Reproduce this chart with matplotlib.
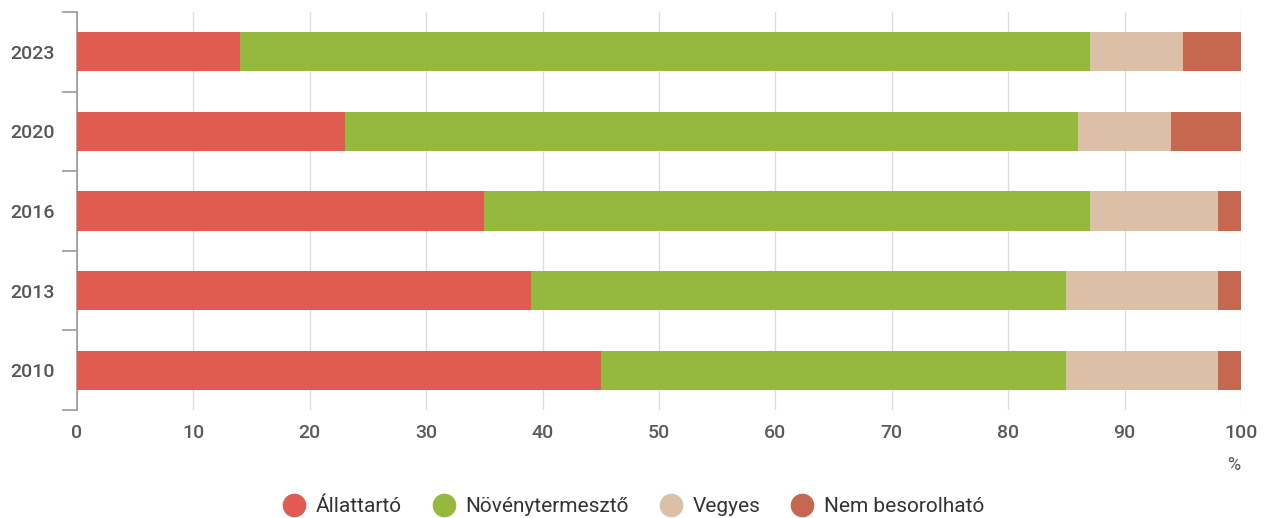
import matplotlib.pyplot as plt
import numpy as np

plt.rcParams['font.family'] = ['Roboto', 'DejaVu Sans']

years = ['2023', '2020', '2016', '2013', '2010']
allattarto = [14, 23, 35, 39, 45]
novenytermeszto = [73, 63, 52, 46, 40]
vegyes = [8, 8, 11, 13, 13]
nem_besorolhato = [5, 6, 2, 2, 2]

series = [('Állattartó', allattarto, '#E05C52'),
          ('Növénytermesztő', novenytermeszto, '#95B83E'),
          ('Vegyes', vegyes, '#DBBFA6'),
          ('Nem besorolható', nem_besorolhato, '#C5684F')]

fig = plt.figure(figsize=(12.65, 5.18), dpi=100)
ax = fig.add_axes([77/1265, 1 - 410/518, (1241-77)/1265, 398/518])

y = np.arange(len(years))
left = np.zeros(len(years))
for name, vals, col in series:
    ax.barh(y, vals, left=left, height=0.49, color=col, label=name, zorder=3)
    left += np.array(vals)

ax.set_xlim(0, 100)
ax.set_ylim(len(years) - 0.5, -0.5)
ax.set_xticks(np.arange(0, 101, 10))
ax.set_yticks(y)
ax.set_yticklabels(years)
ax.set_yticks(np.arange(-0.5, len(years), 1), minor=True)
ax.tick_params(axis='y', which='major', length=0, pad=16, labelsize=14, labelcolor='#555555')
ax.tick_params(axis='y', which='minor', length=11, color='#999999', width=1.2)
ax.tick_params(axis='x', length=0, pad=10, labelsize=14, labelcolor='#5A5A5A')
for lab in ax.get_xticklabels() + ax.get_yticklabels():
    lab.set_fontweight('medium')
ax.grid(axis='x', color='#DDDDDD', linewidth=1, zorder=0)

for s in ['top', 'right', 'bottom']:
    ax.spines[s].set_visible(False)
ax.spines['left'].set_color('#999999')
ax.spines['left'].set_linewidth(1.2)

fig.text(1234/1265, 1 - 465/518, '%', ha='center', va='center', fontsize=13, color='#555555')

handles = [plt.Line2D([], [], marker='o', linestyle='', markersize=16, color=c) for _, _, c in series]
fig.legend(handles, [s[0] for s in series], loc='center', bbox_to_anchor=(632/1265, 1 - 507/518),
           ncol=4, frameon=False, fontsize=15, handletextpad=0.35, columnspacing=1.3,
           handlelength=1.4, labelcolor='#333333')

fig.savefig('out.png', dpi=100)
